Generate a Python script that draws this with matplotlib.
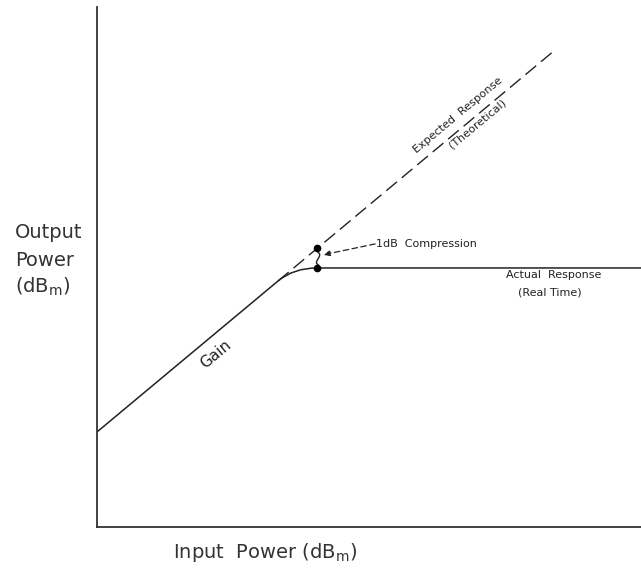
import matplotlib
matplotlib.use("Agg")
import matplotlib.pyplot as plt
from matplotlib.path import Path
from matplotlib.patches import PathPatch, FancyArrowPatch

# ---- data (schematic, dBm) ----
input_range = [-30, 10]
output_range = [-20, 25.85]
gain_db = 18.38
# expected (theoretical) linear response
expected_in = [-16.69, 3.60]
# actual response: linear start, knee start, knee control, compression pt, end
actual_in = [-30.0, -16.69, -15.54, -13.82, 10.0]
actual_out = [-11.62, 1.69, 2.84, 2.84, 2.84]
# 1 dB compression points
comp_in = [-13.82, -13.82]
comp_out = [4.56, 2.84]

FONT = ["DejaVu Sans"]
plt.rcParams["font.family"] = FONT
plt.rcParams["lines.scale_dashes"] = False

W, H = 641, 569
fig = plt.figure(figsize=(W / 100, H / 100), dpi=100)
ax = fig.add_axes([97 / W, (H - 527) / H, 544 / W, 520 / H])
ax.set_xlim(*input_range)
ax.set_ylim(*output_range)
for s in ["top", "right"]:
    ax.spines[s].set_visible(False)
for s in ["left", "bottom"]:
    ax.spines[s].set_color("#333333")
    ax.spines[s].set_linewidth(1.3)
ax.set_xticks([])
ax.set_yticks([])

lc = "#222222"
# expected response dashed
exp_out = [x + gain_db for x in expected_in]
ax.plot(expected_in, exp_out, color=lc, lw=1.0, dashes=(10, 4.5))

# actual response
codes = [Path.MOVETO, Path.LINETO, Path.CURVE3, Path.CURVE3, Path.LINETO]
path = Path(list(zip(actual_in, actual_out)), codes)
ax.add_patch(PathPatch(path, facecolor="none", edgecolor=lc, lw=1.1))

# compression dots
ax.plot(comp_in, comp_out, "o", color="black", ms=4.5)

# squiggle between dots
sq = Path([(-13.79, 4.25), (-13.25, 3.92), (-14.25, 3.35), (-13.68, 3.08)],
          [Path.MOVETO, Path.CURVE4, Path.CURVE4, Path.CURVE4])
ax.add_patch(PathPatch(sq, facecolor="none", edgecolor=lc, lw=1.0))

# leader arrow
arr = FancyArrowPatch((-9.55, 4.96), (-13.38, 4.00), arrowstyle="-|>,head_length=4,head_width=1.6",
                      color=lc, lw=0.9, linestyle=(0, (4, 2.5)), shrinkA=0, shrinkB=0)
ax.add_patch(arr)
ax.text(-9.49, 4.96, "1dB  Compression", fontsize=8, ha="left", va="center", color=lc)

# labels along lines
ax.text(-3.46, 16.33, "Expected  Response", fontsize=8, rotation=39.8,
        ha="center", va="center", rotation_mode="anchor", color=lc)
ax.text(-2.06, 15.54, "(Theoretical)", fontsize=8, rotation=39.8,
        ha="center", va="center", rotation_mode="anchor", color=lc)
ax.text(-21.25, -4.74, "Gain", fontsize=11, rotation=39.8,
        ha="center", va="center", rotation_mode="anchor", color=lc)
ax.text(3.57, 2.22, "Actual  Response", fontsize=8, ha="center", va="center", color=lc)
ax.text(3.31, 0.72, "(Real Time)", fontsize=8, ha="center", va="center", color=lc)

# axis labels
yl = 14
fig.text(15 / W, 1 - 233 / H, "Output", fontsize=yl, ha="left", va="center", color="#333333")
fig.text(15 / W, 1 - 260 / H, "Power", fontsize=yl, ha="left", va="center", color="#333333")
fig.text(15 / W, 1 - 287 / H, r"(dB$\mathregular{_m}$)", fontsize=yl, ha="left", va="center", color="#333333")
fig.text(173 / W, 1 - 552 / H, r"Input  Power (dB$\mathregular{_m}$)", fontsize=yl,
         ha="left", va="center", color="#333333")

fig.savefig("out.png", dpi=100)
